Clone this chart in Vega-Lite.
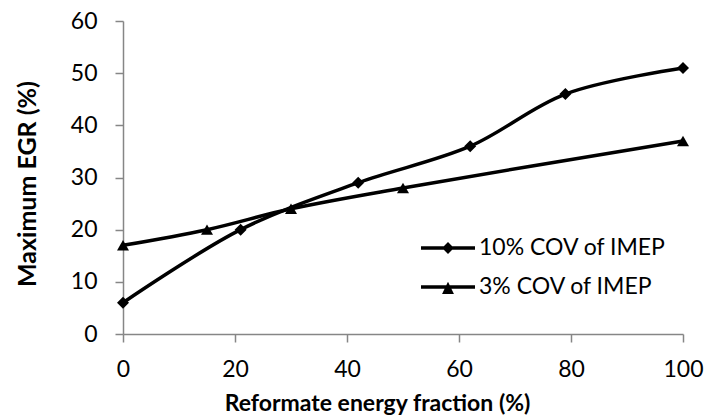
{
  "$schema": "https://vega.github.io/schema/vega-lite/v6.json",
  "width": 560,
  "height": 313,
  "autosize": "none",
  "padding": {"left": 123, "top": 21, "right": 23, "bottom": 82},
  "background": "white",
  "config": {
    "view": {"stroke": null},
    "axis": {
      "grid": false,
      "domainColor": "#868686",
      "domainWidth": 1.5,
      "tickColor": "#868686",
      "tickWidth": 1.5,
      "tickSize": 8,
      "labelColor": "black",
      "labelFont": "Lato",
      "labelFontSize": 23,
      "labelFlush": false,
      "titleFont": "Lato",
      "titleFontSize": 23,
      "titleFontWeight": "bold",
      "titleColor": "black"
    },
    "legend": {
      "labelFont": "Lato",
      "labelFontSize": 23,
      "labelColor": "black",
      "labelLimit": 400
    }
  },
  "data": {
    "values": [
      {"series": "10% COV of IMEP", "x": 0, "y": 6},
      {"series": "10% COV of IMEP", "x": 21, "y": 20},
      {"series": "10% COV of IMEP", "x": 42, "y": 29},
      {"series": "10% COV of IMEP", "x": 62, "y": 36},
      {"series": "10% COV of IMEP", "x": 79, "y": 46},
      {"series": "10% COV of IMEP", "x": 100, "y": 51},
      {"series": "3% COV of IMEP", "x": 0, "y": 17},
      {"series": "3% COV of IMEP", "x": 15, "y": 20},
      {"series": "3% COV of IMEP", "x": 30, "y": 24},
      {"series": "3% COV of IMEP", "x": 50, "y": 28},
      {"series": "3% COV of IMEP", "x": 100, "y": 37}
    ]
  },
  "encoding": {
    "x": {
      "field": "x", "type": "quantitative",
      "scale": {"domain": [0, 100], "nice": false, "zero": false},
      "axis": {
        "title": "Reformate energy fraction (%)",
        "values": [0, 20, 40, 60, 80, 100],
        "labelPadding": 16,
        "titleX": 254,
        "titleY": 76,
        "titleAlign": "center",
        "titleBaseline": "alphabetic"
      }
    },
    "y": {
      "field": "y", "type": "quantitative",
      "scale": {"domain": [0, 60], "nice": false},
      "axis": {
        "title": "Maximum EGR (%)",
        "values": [0, 10, 20, 30, 40, 50, 60],
        "labelPadding": 18,
        "titleFontSize": 25,
        "titleX": -88,
        "titleY": 162.5,
        "titleAngle": -90,
        "titleAlign": "center",
        "titleBaseline": "alphabetic"
      }
    }
  },
  "layer": [
    {
      "mark": {"type": "line", "color": "black", "strokeWidth": 3.5, "interpolate": "catmull-rom"},
      "encoding": {"detail": {"field": "series"}}
    },
    {
      "mark": {"type": "point", "filled": true, "color": "black", "opacity": 1, "size": 144},
      "encoding": {
        "shape": {
          "field": "series", "type": "nominal",
          "scale": {"domain": ["10% COV of IMEP", "3% COV of IMEP"], "range": ["diamond", "triangle-up"]},
          "legend": null
        }
      }
    },
    {
      "mark": {"type": "point", "filled": true, "color": "black", "opacity": 0, "size": 144},
      "encoding": {
        "shape": {
          "field": "series", "type": "nominal",
          "scale": {"domain": ["10% COV of IMEP", "3% COV of IMEP"], "range": ["M-1,-0.065H1V0.065H-1ZM0,-0.22L0.22,0L0,0.22L-0.22,0Z", "M-1,-0.065H1V0.065H-1ZM0,-0.19L0.22,0.26L-0.22,0.26Z"]},
          "legend": {
            "title": null,
            "orient": "none",
            "legendX": 298,
            "legendY": 200,
            "padding": 0,
            "symbolSize": 2916,
            "symbolFillColor": "black",
            "symbolStrokeColor": "black",
            "symbolStrokeWidth": 0,
            "symbolOpacity": 1,
            "labelOffset": 4,
            "rowPadding": -4,
            "encode": {
              "symbols": {
                "update": {
                  "fill": {"value": "black"},
                  "opacity": {"value": 1},
                  "size": {"value": 2916}
                }
              }
            }
          }
        }
      }
    }
  ],
  "resolve": {"scale": {"shape": "independent"}}
}
